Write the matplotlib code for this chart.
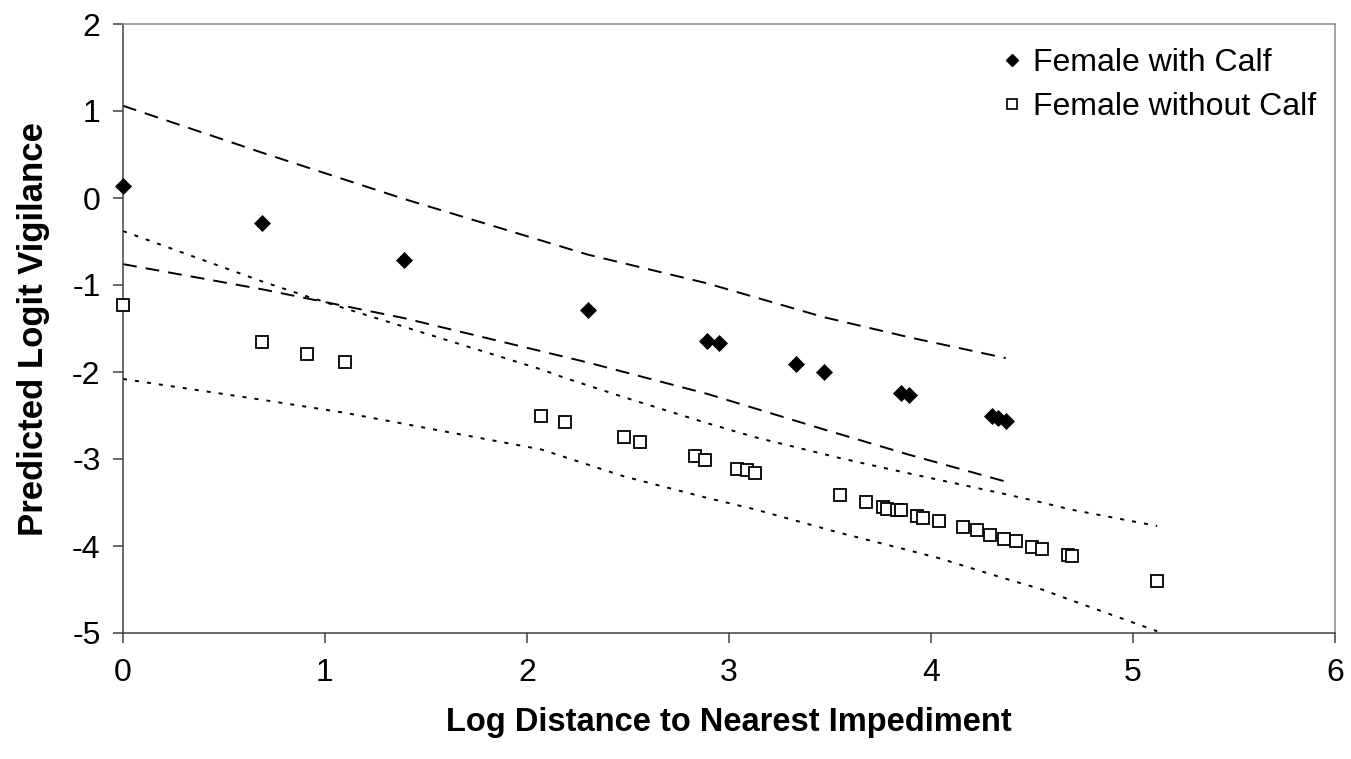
import matplotlib
matplotlib.use("Agg")
import matplotlib.pyplot as plt
from matplotlib.lines import Line2D

plt.rcParams['font.family'] = ['Liberation Sans', 'DejaVu Sans']
plt.rcParams['lines.scale_dashes'] = False

# ---------------- data ----------------
calf_x = [0.00, 0.69, 1.39, 2.30, 2.89, 2.95, 3.33, 3.47, 3.85, 3.89, 4.30, 4.33, 4.37]
calf_y = [0.14, -0.29, -0.71, -1.29, -1.64, -1.67, -1.91, -2.00, -2.24, -2.26, -2.50, -2.53, -2.56]

nocalf_x = [0.00, 0.69, 0.91, 1.10, 2.07, 2.19, 2.48, 2.56, 2.83, 2.88, 3.04, 3.09, 3.13,
            3.55, 3.68, 3.76, 3.78, 3.83, 3.85, 3.93, 3.96, 4.04, 4.16, 4.23, 4.29, 4.36,
            4.42, 4.50, 4.55, 4.68, 4.70, 5.12]
nocalf_y = [-1.23, -1.65, -1.79, -1.89, -2.51, -2.58, -2.75, -2.80, -2.96, -3.01, -3.11, -3.13, -3.16,
            -3.41, -3.49, -3.55, -3.57, -3.59, -3.59, -3.66, -3.68, -3.71, -3.78, -3.82, -3.87, -3.92,
            -3.94, -4.01, -4.03, -4.10, -4.11, -4.40]

# confidence bands, female with calf (dashed)
calf_ci_x = [0.00, 0.69, 1.39, 2.30, 2.89, 3.47, 3.89, 4.37]
calf_ci_upper = [1.06, 0.52, -0.01, -0.65, -0.98, -1.37, -1.60, -1.84]
calf_ci_lower = [-0.76, -1.05, -1.38, -1.89, -2.25, -2.66, -2.95, -3.26]

# confidence bands, female without calf (dotted)
nocalf_ci_x = [0.00, 0.69, 0.91, 1.10, 2.07, 2.19, 2.48, 2.88, 3.13, 3.55, 3.84, 4.04, 4.36, 4.55, 4.69, 5.12]
nocalf_ci_upper = [-0.38, -0.96, -1.13, -1.27, -1.97, -2.07, -2.29, -2.58, -2.75, -2.99, -3.14, -3.24,
                   -3.40, -3.50, -3.58, -3.77]
nocalf_ci_lower = [-2.08, -2.32, -2.40, -2.47, -2.89, -2.98, -3.20, -3.44, -3.58, -3.85, -4.02, -4.14,
                   -4.37, -4.50, -4.62, -4.98]

x_ticks = [0, 1, 2, 3, 4, 5, 6]
y_ticks = [-5, -4, -3, -2, -1, 0, 1, 2]
labels = ["Female with Calf", "Female without Calf"]

# ---------------- figure ----------------
W, H = 1351, 759
fig = plt.figure(figsize=(W / 100, H / 100), dpi=100)
L, R, T, B = 123, 1335, 24, 633
ax = fig.add_axes([L / W, 1 - B / H, (R - L) / W, (B - T) / H])

dash_long = (0, (10, 6.5))
dash_dot = (0, (2.9, 5.8))
for yy in (calf_ci_upper, calf_ci_lower):
    ax.plot(calf_ci_x, yy, color='black', lw=1.4, linestyle=dash_long, dash_capstyle='butt', zorder=2)
for yy in (nocalf_ci_upper, nocalf_ci_lower):
    ax.plot(nocalf_ci_x, yy, color='black', lw=1.4, linestyle=dash_dot, dash_capstyle='butt', zorder=2)

ax.plot(calf_x, calf_y, linestyle='none', marker='D', ms=8.0, mfc='black', mec='black', mew=0.5,
        zorder=4, clip_on=False)
ax.plot(nocalf_x, nocalf_y, linestyle='none', marker='s', ms=8.2, mfc='white', mec='black', mew=1.3,
        zorder=3, clip_on=False)

ax.set_xlim(0, 6)
ax.set_ylim(-5, 2)
ax.set_xticks(x_ticks)
ax.set_yticks(y_ticks)
ax.set_xticklabels([str(v) for v in x_ticks])
ax.set_yticklabels([str(v) for v in y_ticks])

for s in ['left', 'bottom']:
    ax.spines[s].set_color('#404040')
    ax.spines[s].set_linewidth(1.1)
for s in ['top', 'right']:
    ax.spines[s].set_color('#8c8c8c')
    ax.spines[s].set_linewidth(1.1)

ax.tick_params(axis='both', direction='out', length=7.2, width=1.1, color='#404040',
               labelsize=23, labelcolor='black')
ax.tick_params(axis='y', pad=9)
ax.tick_params(axis='x', pad=11)

ax.set_xlabel("Log Distance to Nearest Impediment", fontsize=23.5, fontweight='bold', va='center')
ax.xaxis.set_label_coords(0.5, (B - 722) / (B - T))
ax.set_ylabel("Predicted Logit Vigilance", fontsize=25, fontweight='bold', va='center')
ax.yaxis.set_label_coords((34 - L) / (R - L), 0.5)

handles = [
    Line2D([], [], linestyle='none', marker='D', ms=6.5, mfc='black', mec='black'),
    Line2D([], [], linestyle='none', marker='s', ms=6.8, mfc='white', mec='black', mew=1.2),
]
ax.legend(handles, labels, loc='upper left', bbox_to_anchor=((999 - L) / (R - L), (B - 48) / (B - T)),
          frameon=False, fontsize=23, handlelength=0.8, handletextpad=0.26, labelspacing=0.45,
          borderpad=0, borderaxespad=0)

fig.savefig("out.png", dpi=100, facecolor='white')
